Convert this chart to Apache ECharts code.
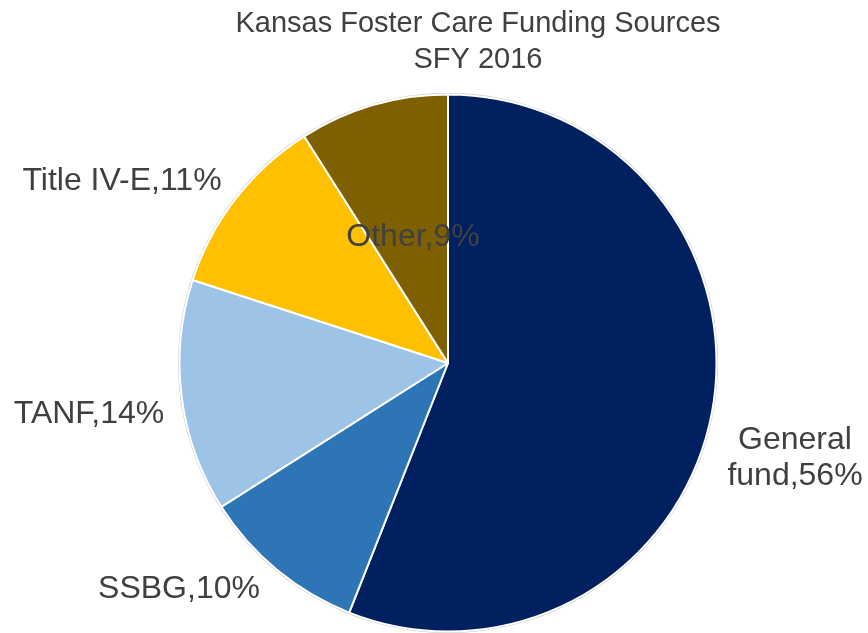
<!DOCTYPE html>
<html>
<head>
<meta charset="utf-8">
<script src="https://cdn.jsdelivr.net/npm/echarts@6/dist/echarts.min.js"></script>
<style>
html,body{margin:0;padding:0;background:#fff;}
#chart{width:868px;height:633px;}
</style>
</head>
<body>
<div id="chart"></div>
<script>
var categories = ['General fund', 'SSBG', 'TANF', 'Title IV-E', 'Other'];
var values = [56, 10, 14, 11, 9];
var colors = ['#002060', '#2E75B6', '#9DC3E6', '#FFC000', '#7F6000'];
var labelTexts = ['General\nfund,56%', 'SSBG,10%', 'TANF,14%', 'Title IV-E,11%', 'Other,9%'];
// label anchor points (layout only)
var labelAnchors = [
  {x: 795, y: 458, align: 'center'},
  {x: 179, y: 589, align: 'center'},
  {x: 89, y: 414, align: 'center'},
  {x: 122, y: 181, align: 'center'},
  {x: 413, y: 237, align: 'center'}
];

var chart = echarts.init(document.getElementById('chart'));
var font = '"Liberation Sans", Arial, sans-serif';
chart.setOption({
  animation: false,
  title: {
    text: 'Kansas Foster Care Funding Sources\nSFY 2016',
    left: 473,
    top: 1,
    textAlign: 'center',
    textStyle: {
      fontFamily: font, fontSize: 29, fontWeight: 'normal',
      color: '#404040', lineHeight: 36
    }
  },
  series: [
    {
      type: 'pie',
      silent: true,
      center: [448, 363],
      radius: [0, 270],
      label: {show: false},
      labelLine: {show: false},
      itemStyle: {color: '#c8c8c8'},
      data: [{value: 1}],
      z: 1
    },
    {
      type: 'pie',
      center: [448, 363],
      radius: [0, 268.5],
      startAngle: 90,
      clockwise: true,
      data: categories.map(function (c, i) {
        return {name: c, value: values[i], itemStyle: {color: colors[i]}};
      }),
      itemStyle: {borderColor: '#ffffff', borderWidth: 2},
      label: {
        show: true,
        position: 'outside',
        overflow: 'none',
        width: 400,
        fontFamily: font,
        fontSize: 32,
        color: '#404040',
        lineHeight: 36,
        align: 'center',
        formatter: function (p) { return labelTexts[p.dataIndex]; }
      },
      labelLine: {show: false},
      labelLayout: function (p) {
        var a = labelAnchors[p.dataIndex];
        return {x: a.x, y: a.y, align: a.align, verticalAlign: 'middle'};
      },
      z: 2
    }
  ]
});
</script>
</body>
</html>
